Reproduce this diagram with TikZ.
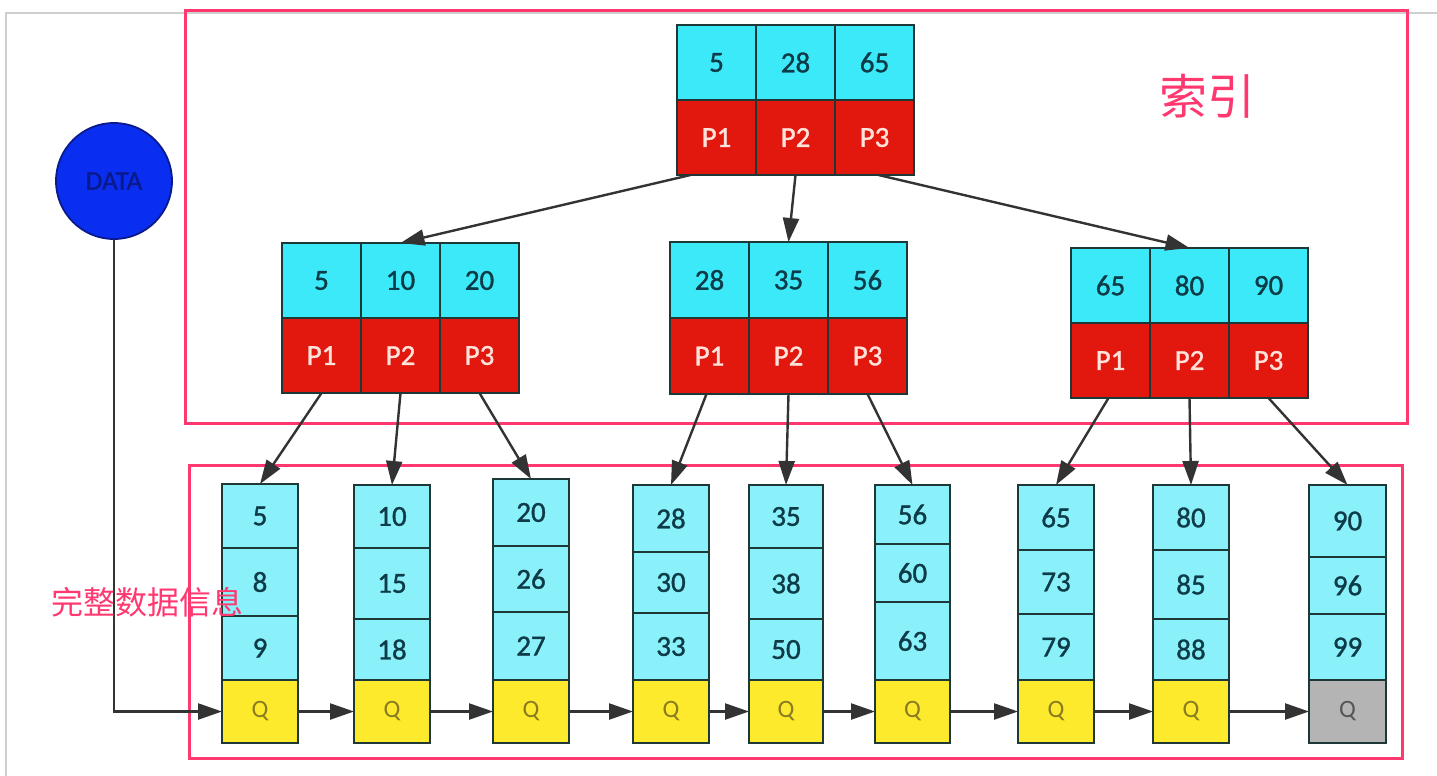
\documentclass[tikz,border=0pt]{standalone}
\usepackage{fontspec}
\setmainfont{Carlito}
\newfontfamily\cellfont[FakeBold=1.2]{Carlito}
\newfontfamily\cjk{Noto Sans CJK SC}
\usetikzlibrary{arrows.meta,calc}
\definecolor{kcyan}{HTML}{3CE9F9}
\definecolor{lcyan}{HTML}{8AF0FA}
\definecolor{nred}{HTML}{E2180F}
\definecolor{qyellow}{HTML}{FDEA2C}
\definecolor{qgray}{HTML}{B4B4B4}
\definecolor{cellborder}{HTML}{1E3838}
\definecolor{pinkc}{HTML}{FF3870}
\definecolor{numtext}{HTML}{0D3B47}
\definecolor{ptext}{HTML}{FFE2DA}
\definecolor{qtext}{HTML}{8A7A20}
\definecolor{qgtext}{HTML}{555555}
\definecolor{datablue}{HTML}{0A2EF0}
\definecolor{datatext}{HTML}{0A1A8C}
\definecolor{linec}{HTML}{333333}
\definecolor{framegray}{HTML}{CFCFCF}
\tikzset{
  cellbase/.style={draw=cellborder, line width=1.8pt, inner sep=0pt, outer sep=0pt,
    font=\cellfont\fontsize{29}{32}\selectfont},
  kcell/.style={cellbase, fill=kcyan, text=numtext},
  pcell/.style={cellbase, fill=nred, text=ptext},
  lcell/.style={cellbase, fill=lcyan, text=numtext},
  qcell/.style={cellbase, fill=qyellow, text=qtext, font=\fontsize{25}{28}\selectfont},
  qlast/.style={cellbase, fill=qgray, text=qgtext, font=\fontsize{25}{28}\selectfont},
  conn/.style={draw=linec, line width=2.4pt, -{Triangle[length=24pt,width=16pt]}},
  pinkbox/.style={draw=pinkc, line width=3pt},
  pinklabel/.style={text=pinkc, inner sep=0pt},
}
% internal node: name, x0, cell width, top, cell height, keys
\newcommand\inode[6]{%
  \foreach \k [count=\i] in {#6}{%
    \node[kcell, minimum width={#3*1pt}, minimum height={#5*1pt}]
      (#1k\i) at ({#2+(\i-0.5)*#3},{#4+0.5*#5}) {\k};
    \node[pcell, minimum width={#3*1pt}, minimum height={#5*1pt}]
      (#1p\i) at ({#2+(\i-0.5)*#3},{#4+1.5*#5}) {P\i};
  }%
}
% leaf: name, xl, xr, top, line1, line2, t1, t2, t3  (Q from 680 to 743)
\newcommand\leafbox[9]{%
  \node[lcell, minimum width={(#3-#2)*1pt}, minimum height={(#5-#4)*1pt}]
    (#11) at ({(#2+#3)/2},{(#4+#5)/2}) {#7};
  \node[lcell, minimum width={(#3-#2)*1pt}, minimum height={(#6-#5)*1pt}]
    (#12) at ({(#2+#3)/2},{(#5+#6)/2}) {#8};
  \node[lcell, minimum width={(#3-#2)*1pt}, minimum height={(680-#6)*1pt}]
    (#13) at ({(#2+#3)/2},{(#6+680)/2}) {#9};
  \node[qstyle, minimum width={(#3-#2)*1pt}, minimum height=63pt]
    (#1q) at ({(#2+#3)/2},711.5) {Q};
}
\begin{document}
\begin{tikzpicture}[x=1pt,y=-1pt]
\useasboundingbox (0,0) rectangle (1437,776);
\fill[white] (0,0) rectangle (1437,776);
% outer light frame
\draw[framegray, line width=2pt] (6,776) -- (6,13) -- (1437,13);
% pink boxes
\draw[pinkbox] (185,11) rectangle (1407,423);
\draw[pinkbox] (189,465) rectangle (1402,758);
% internal nodes
\inode{root}{677}{79}{25}{75}{5,28,65}
\inode{ml}{282}{79}{243}{75}{5,10,20}
\inode{mc}{670}{79}{242}{76}{28,35,56}
\inode{mr}{1071}{79}{248}{75}{65,80,90}
% leaves
\tikzset{qstyle/.style={qcell}}
\leafbox{la}{222}{298}{484}{548}{616}{5}{8}{9}
\leafbox{lb}{354}{430}{485}{548}{619}{10}{15}{18}
\leafbox{lc}{493}{569}{479}{546}{612}{20}{26}{27}
\leafbox{ld}{633}{709}{485}{552}{613}{28}{30}{33}
\leafbox{le}{749}{823}{485}{548}{619}{35}{38}{50}
\leafbox{lf}{875}{950}{485}{544}{602}{56}{60}{63}
\leafbox{lg}{1018}{1094}{485}{550}{614}{65}{73}{79}
\leafbox{lh}{1153}{1229}{485}{550}{619}{80}{85}{88}
\tikzset{qstyle/.style={qlast}}
\leafbox{li}{1309}{1386}{485}{557}{614}{90}{96}{99}
% data circle
\node[circle, draw=datatext, line width=1.8pt, fill=datablue, minimum size=116pt,
  inner sep=0pt, text=datatext, font=\cellfont\fontsize{27}{30}\selectfont] (data) at (114,181) {DATA};
% tree connectors
\draw[conn] ([xshift=-26pt]rootp1.south) -- (mlk2.north);
\draw[conn] (rootp2.south) -- (mck2.north);
\draw[conn] ([xshift=4pt]rootp3.south) -- (mrk2.north);
\draw[conn] (mlp1.south) -- (la1.north);
\draw[conn] (mlp2.south) -- (lb1.north);
\draw[conn] (mlp3.south) -- (lc1.north);
\draw[conn] ([xshift=-3pt]mcp1.south) -- (ld1.north);
\draw[conn] (mcp2.south) -- (le1.north);
\draw[conn] (mcp3.south) -- (lf1.north);
\draw[conn] ([xshift=-2pt]mrp1.south) -- (lg1.north);
\draw[conn] (mrp2.south) -- (lh1.north);
\draw[conn] (mrp3.south) -- (li1.north);
% leaf chain
\draw[conn] (data.south) |- (laq.west);
\draw[conn] (laq.east) -- (lbq.west);
\draw[conn] (lbq.east) -- (lcq.west);
\draw[conn] (lcq.east) -- (ldq.west);
\draw[conn] (ldq.east) -- (leq.west);
\draw[conn] (leq.east) -- (lfq.west);
\draw[conn] (lfq.east) -- (lgq.west);
\draw[conn] (lgq.east) -- (lhq.west);
\draw[conn] (lhq.east) -- (liq.west);
% labels
\node[pinklabel, font=\cjk\fontsize{48}{52}\selectfont] (idxlabel) at (1207,96) {索引};
\node[pinklabel, font=\cjk\fontsize{32}{35}\selectfont] (datalabel) at (147,602) {完整数据信息};
\end{tikzpicture}
\end{document}
